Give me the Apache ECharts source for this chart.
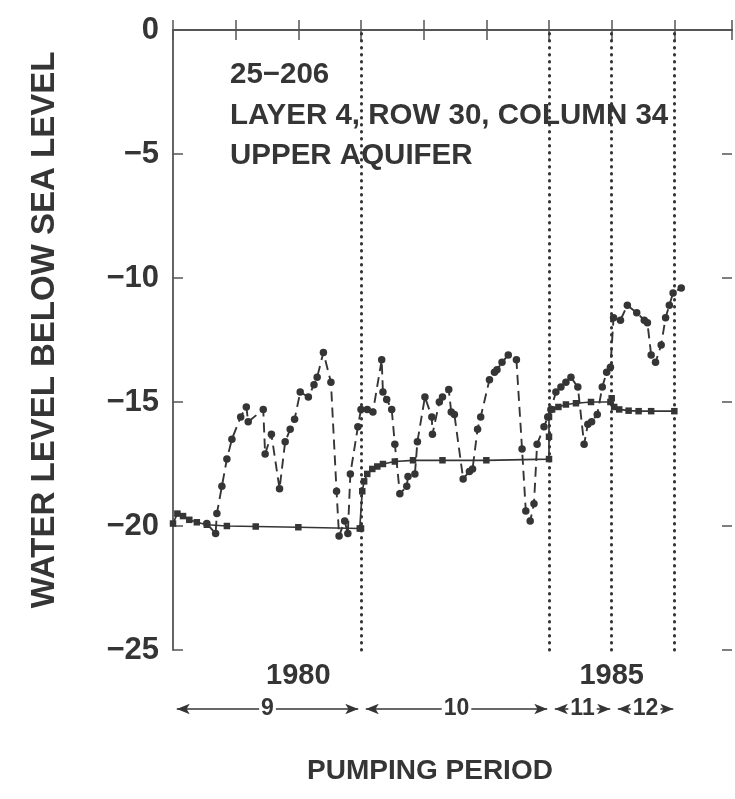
<!DOCTYPE html>
<html><head><meta charset="utf-8">
<script src="https://cdn.jsdelivr.net/npm/echarts@6/dist/echarts.min.js"></script>
<style>html,body{margin:0;padding:0;background:#fff}#c{width:735px;height:799px}</style>
</head><body><div id="c"></div>
<script>
// ---- data ----
const xMin = 1978, xMax = 1986.92;
const xLabelYears = [1980, 1985];
const yTickValues = [0, -5, -10, -15, -20, -25];
const periodBounds = [1981, 1984, 1985, 1986];
const periodNames = ['9', '10', '11', '12'];
const periodStarts = [1978, 1981, 1984, 1985];
const periodEnds = [1981, 1984, 1985, 1986];
const annotationLines = ['25\u2212206', 'LAYER 4, ROW 30, COLUMN 34', 'UPPER AQUIFER'];
const yTitle = 'WATER LEVEL BELOW SEA LEVEL';
const xTitle = 'PUMPING PERIOD';

// simulated (solid line, squares)
const modelYears = [1978.0, 1978.07, 1978.16, 1978.26, 1978.38, 1978.54, 1978.86, 1979.32, 1980.0, 1980.98,
  1981.0, 1981.02, 1981.05, 1981.1, 1981.18, 1981.26, 1981.35, 1981.54, 1981.83, 1982.3, 1983.0, 1984.0,
  1984.0, 1984.0, 1984.05, 1984.15, 1984.27, 1984.43, 1984.67, 1984.98, 1985.0, 1985.04, 1985.12, 1985.27, 1985.43, 1985.63, 1986.0];
const modelLevels = [-19.9, -19.5, -19.6, -19.75, -19.85, -19.95, -20.0, -20.02, -20.05, -20.1,
  -20.1, -18.6, -18.2, -17.9, -17.7, -17.6, -17.5, -17.4, -17.35, -17.35, -17.35, -17.3,
  -16.4, -15.6, -15.3, -15.2, -15.1, -15.05, -15.0, -15.0, -14.85, -15.2, -15.3, -15.35, -15.37, -15.37, -15.37];

// observed (dashed line, dots)
const obsYears = [1978.54, 1978.68, 1978.70, 1978.78, 1978.86, 1978.94, 1979.08, 1979.17, 1979.20, 1979.44,
  1979.47, 1979.57, 1979.70, 1979.79, 1979.87, 1979.94, 1980.03, 1980.16, 1980.25, 1980.30,
  1980.40, 1980.52, 1980.61, 1980.65, 1980.74, 1980.79, 1980.83, 1980.95, 1981.00, 1981.10,
  1981.19, 1981.33, 1981.35, 1981.41, 1981.49, 1981.54, 1981.62, 1981.73, 1981.75, 1981.86,
  1981.90, 1982.02, 1982.13, 1982.14, 1982.25, 1982.30, 1982.40, 1982.44, 1982.49, 1982.63,
  1982.73, 1982.78, 1982.86, 1982.91, 1983.05, 1983.13, 1983.17, 1983.25, 1983.35, 1983.48,
  1983.57, 1983.63, 1983.70, 1983.76, 1983.81, 1983.92, 1983.98, 1984.03, 1984.11, 1984.19,
  1984.27, 1984.35, 1984.46, 1984.56, 1984.62, 1984.68, 1984.77, 1984.85, 1984.92, 1984.98,
  1985.03, 1985.14, 1985.25, 1985.40, 1985.52, 1985.57, 1985.63, 1985.70, 1985.79, 1985.86,
  1985.92, 1985.98, 1986.11];
const obsLevels = [-19.9, -20.3, -19.5, -18.4, -17.3, -16.5, -15.6, -15.2, -15.8, -15.3,
  -17.1, -16.3, -18.5, -16.6, -16.1, -15.7, -14.6, -14.8, -14.3, -14.0,
  -13.0, -14.2, -18.6, -20.4, -19.8, -20.3, -17.9, -16.0, -15.3, -15.3,
  -15.4, -13.3, -14.6, -14.9, -15.3, -16.7, -18.7, -18.4, -18.0, -17.9,
  -16.6, -14.8, -15.6, -16.3, -15.0, -14.8, -14.5, -15.4, -15.5, -18.1,
  -17.8, -17.7, -16.1, -15.6, -14.1, -13.8, -13.7, -13.4, -13.1, -13.3,
  -16.9, -19.4, -19.8, -19.1, -16.7, -16.0, -15.6, -15.3, -14.6, -14.4,
  -14.2, -14.0, -14.4, -16.7, -15.9, -15.8, -15.5, -14.4, -13.8, -13.6,
  -11.6, -11.7, -11.1, -11.4, -11.7, -11.8, -13.1, -13.4, -12.7, -11.6,
  -11.1, -10.6, -10.4];

// ---- chart ----
const ink = '#353535';
const font = '"Liberation Sans", Arial, Helvetica, sans-serif';
const gap = 0.06;
const chart = echarts.init(document.getElementById('c'), null, {renderer: 'canvas'});
const zip = (a, b) => a.map((v, i) => [v, b[i]]);
const fmtNum = v => v < 0 ? '\u2212' + (-v) : String(v);

const axisCommon = {
  type: 'value', min: xMin, max: xMax, interval: 1,
  axisLine: {show: true, lineStyle: {color: '#555', width: 1.8}},
  axisTick: {show: true, inside: true, length: 10, lineStyle: {color: '#555', width: 1.5}},
  splitLine: {show: false}
};

const option = {
  backgroundColor: '#fff',
  animation: false,
  grid: [
    {left: 173, top: 30, right: 0, height: 620, containLabel: false},
    {left: 173, top: 699, right: 0, height: 20, containLabel: false}
  ],
  xAxis: [
    Object.assign({}, axisCommon, {gridIndex: 0, position: 'bottom',
      axisLabel: {show: true, margin: 11, fontFamily: font, fontSize: 29, fontWeight: 'bold', color: ink,
        formatter: v => xLabelYears.includes(Math.round(v)) ? String(Math.round(v)) : ''}}),
    Object.assign({}, axisCommon, {gridIndex: 0, position: 'top', axisLabel: {show: false}}),
    {type: 'value', gridIndex: 1, min: xMin, max: xMax, show: false}
  ],
  yAxis: [
    {type: 'value', gridIndex: 0, position: 'left', min: -25, max: 0, interval: 5,
      axisLine: {show: true, lineStyle: {color: '#555', width: 1.8}},
      axisTick: {show: true, inside: true, length: 10, lineStyle: {color: '#555', width: 1.5}},
      splitLine: {show: false},
      axisLabel: {show: true, margin: 14, fontFamily: font, fontSize: 31, fontWeight: 'bold', color: ink,
        formatter: v => yTickValues.includes(v) ? fmtNum(v) : ''}},
    {type: 'value', gridIndex: 0, position: 'right', min: -25, max: 0, interval: 5,
      axisLine: {show: false},
      axisTick: {show: true, inside: true, length: 10, lineStyle: {color: '#555', width: 1.5}},
      splitLine: {show: false}, axisLabel: {show: false}},
    {type: 'value', gridIndex: 1, min: 0, max: 1, show: false}
  ],
  series: [
    {
      name: 'simulated', type: 'line', xAxisIndex: 0, yAxisIndex: 0,
      data: zip(modelYears, modelLevels),
      symbol: 'rect', symbolSize: 6.5, showAllSymbol: true,
      lineStyle: {color: ink, width: 1.7},
      itemStyle: {color: ink},
      z: 3
    },
    {
      name: 'observed', type: 'line', xAxisIndex: 0, yAxisIndex: 0,
      data: zip(obsYears, obsLevels),
      symbol: 'circle', symbolSize: 7.5, showAllSymbol: true,
      lineStyle: {color: ink, width: 1.9, type: [10, 6]},
      itemStyle: {color: ink},
      z: 4,
      markLine: {
        silent: true, symbol: ['none', 'none'], animation: false,
        label: {show: false},
        lineStyle: {color: '#333', width: 3, type: [0.5, 6.5], cap: 'round'},
        data: periodBounds.map(x => ({xAxis: x}))
      }
    },
    {
      name: 'periods', type: 'line', xAxisIndex: 2, yAxisIndex: 2,
      data: [], showSymbol: false,
      markLine: {
        silent: true, animation: false,
        symbol: ['arrow', 'arrow'], symbolSize: [8, 13],
        lineStyle: {color: ink, width: 1.6, type: 'solid'},
        label: {show: true, position: 'insideMiddle', fontFamily: font, fontSize: 23, fontWeight: 'bold',
          color: ink, backgroundColor: '#fff', padding: [0, 2], formatter: p => p.name},
        data: periodNames.map((n, i) => [
          {name: n, coord: [periodStarts[i] + gap, 0.5]},
          {coord: [periodEnds[i] - gap, 0.5]}
        ])
      }
    }
  ],
  graphic: [
    ...annotationLines.map((t, i) => ({
      type: 'text', x: 230, y: 75 + i * 40.5, z: 10,
      style: {text: t, fontFamily: font, fontSize: 29.5, fontWeight: 'bold', fill: ink,
        align: 'left', verticalAlign: 'middle'}
    })),
    {type: 'text', x: 45, y: 330, rotation: Math.PI / 2, z: 10,
      style: {text: yTitle, fontFamily: font, fontSize: 33, fontWeight: 'bold', fill: ink,
        align: 'center', verticalAlign: 'middle'}},
    {type: 'text', x: 430, y: 771, z: 10,
      style: {text: xTitle, fontFamily: font, fontSize: 28, fontWeight: 'bold', fill: ink,
        align: 'center', verticalAlign: 'middle'}}
  ]
};
chart.setOption(option);
</script>
</body></html>
